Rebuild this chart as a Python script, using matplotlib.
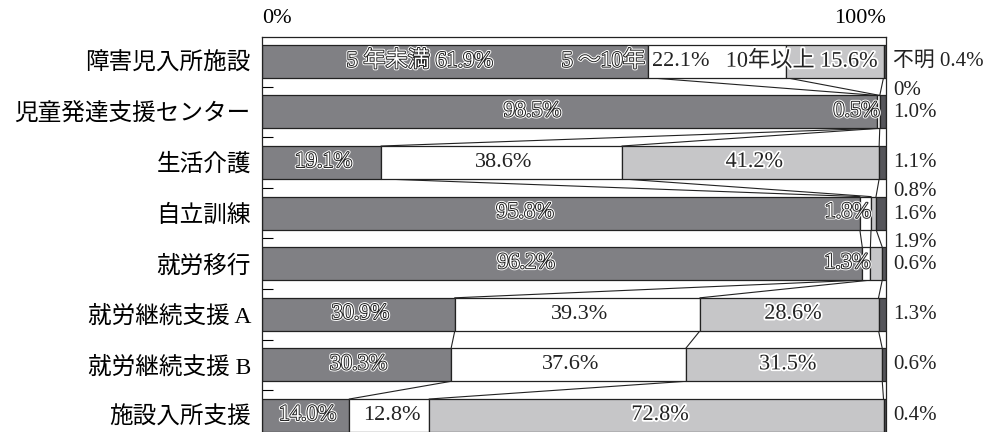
import numpy as np
import matplotlib.pyplot as plt
import matplotlib.patheffects as pe

plt.rcParams['font.family'] = ['Liberation Serif', 'Noto Sans CJK JP', 'DejaVu Sans']

categories = ['障害児入所施設', '児童発達支援センター', '生活介護', '自立訓練',
              '就労移行', '就労継続支援 A', '就労継続支援 B', '施設入所支援']
under5 = [61.9, 98.5, 19.1, 95.8, 96.2, 30.9, 30.3, 14.0]
y5to10 = [22.1, 0.5, 38.6, 1.8, 1.3, 39.3, 37.6, 12.8]
over10 = [15.6, 0.0, 41.2, 0.8, 1.9, 28.6, 31.5, 72.8]
unknown = [0.4, 1.0, 1.1, 1.6, 0.6, 1.3, 0.6, 0.4]

colors = ['#808084', '#ffffff', '#c6c6c8', '#55555a']
h = 0.65

data = np.array([under5, y5to10, over10, unknown]).T
cum = np.cumsum(data, axis=1)
starts = cum - data
y = np.arange(len(categories))

fig = plt.figure(figsize=(9.85, 4.32), dpi=100)
ax = fig.add_axes([0.266, -0.032, 0.6335, 0.9464])

for k in range(4):
    ax.barh(y, data[:, k], left=starts[:, k], height=h, color=colors[k],
            edgecolor='#222222', linewidth=0.9, zorder=2)

# lines joining the segment boundaries of neighbouring bars
for i in range(len(categories) - 1):
    for k in range(3):
        ax.plot([cum[i, k], cum[i + 1, k]], [i + h / 2, i + 1 - h / 2],
                color='#222222', lw=0.8, zorder=1)

ax.set_xlim(0, 100)
ax.set_ylim(7.6, -0.48)
ax.set_xticks([])
ax.set_yticks(y)
ax.set_yticklabels(categories, fontsize=17)
ax.tick_params(axis='y', which='major', length=0, pad=8)
ax.set_yticks(y[:-1] + 0.5, minor=True)
ax.tick_params(axis='y', which='minor', direction='in', length=8, width=0.8)
for s in ax.spines.values():
    s.set_linewidth(0.9)
    s.set_color('#222222')

outlined = [pe.Stroke(linewidth=2.8, foreground='white'),
            pe.Stroke(linewidth=1.4, foreground='#222222'), pe.Normal()]
halo = [pe.withStroke(linewidth=2.5, foreground='white')]
fs = 16


def lab(x, yy, s, style, ha='center', size=fs):
    if style == 'dark':
        ax.text(x, yy, s, ha=ha, va='center', fontsize=size, color='white',
                path_effects=outlined, zorder=4)
    elif style == 'light':
        ax.text(x, yy, s, ha=ha, va='center', fontsize=size, color='#222222',
                path_effects=halo, zorder=4)
    else:
        ax.text(x, yy, s, ha=ha, va='center', fontsize=size, color='#222222',
                zorder=4, clip_on=False)


def pct(v):
    return f'{v:.1f}%' if v > 0 else '0%'


def side(yy, s):
    lab(101.1, yy, s, 'plain', ha='left', size=15)


# first row carries the legend text
lab(25.3, 0, f'5 年未満 {pct(under5[0])}', 'dark')
lab(cum[0, 0] - 0.5, 0, '5 ～10年', 'dark', ha='right')
lab(cum[0, 0] + 0.6, 0, pct(y5to10[0]), 'plain', ha='left')
lab(cum[0, 2] - 0.9, 0, f'10年以上 {pct(over10[0])}', 'light', ha='right')
side(0, f'不明 {pct(unknown[0])}')

for i in range(1, len(categories)):
    if under5[i] > 90:
        # tiny segments: 5-10 value inside the dark bar, the rest outside
        lab(under5[i] * 0.44, i, pct(under5[i]), 'dark')
        lab(cum[i, 1], i, pct(y5to10[i]), 'dark', ha='right')
        side(i - 0.42, pct(over10[i]))
        side(i + 0.02, pct(unknown[i]))
    else:
        lab(starts[i, 0] + data[i, 0] / 2 + 0.3, i, pct(under5[i]), 'dark')
        lab(starts[i, 1] + data[i, 1] / 2 + 0.4, i, pct(y5to10[i]), 'plain')
        lab(starts[i, 2] + data[i, 2] / 2 + 0.6, i, pct(over10[i]), 'light')
        side(i, pct(unknown[i]))

ax.text(0, 1.045, '0%', transform=ax.transAxes, ha='left', va='center', fontsize=16)
ax.text(1, 1.045, '100%', transform=ax.transAxes, ha='right', va='center', fontsize=16)

fig.savefig('out.png', dpi=100)
